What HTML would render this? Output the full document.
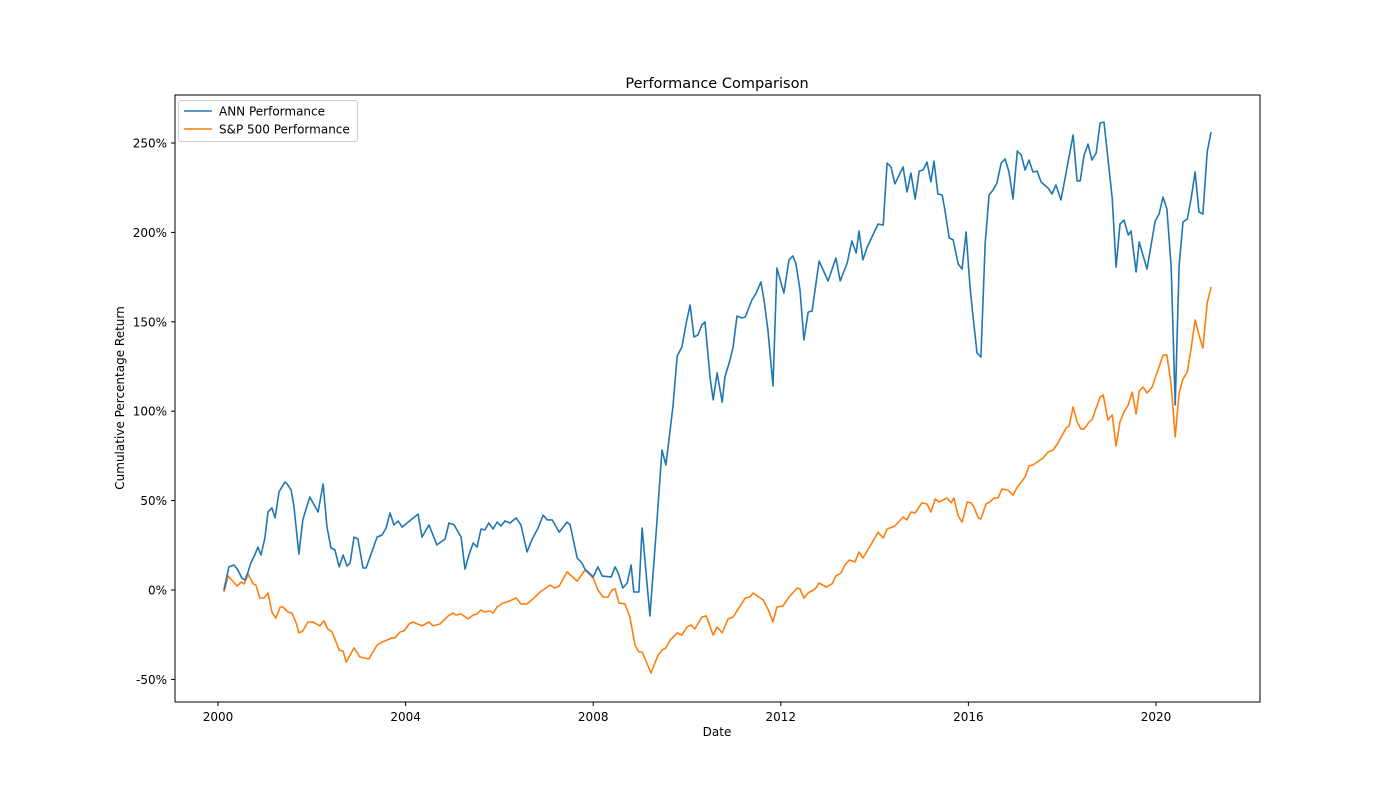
<!DOCTYPE html>
<html><head><meta charset="utf-8"><style>
html,body{margin:0;padding:0;background:#fff;}
svg{display:block;font-family:"DejaVu Sans","Liberation Sans",sans-serif;}
</style></head><body>
<svg id="chart" width="1400" height="788" viewBox="0 0 1400 788">
<rect width="1400" height="788" fill="#fff"/>
<text x="717" y="88" text-anchor="middle" font-size="14.5">Performance Comparison</text>
<g id="grid"></g>
<g id="series"></g>
<rect x="175" y="95" width="1085" height="607" fill="none" stroke="#000" stroke-width="1"/>
<g id="axes"></g>
<text x="717" y="736" text-anchor="middle" font-size="12">Date</text>
<text transform="translate(124,398) rotate(-90)" text-anchor="middle" font-size="12">Cumulative Percentage Return</text>
<g>
<rect x="178.5" y="100.5" width="179" height="41" rx="2" fill="#fff" stroke="#ccc"/>
<line x1="184" y1="111" x2="212" y2="111" stroke="#1f77b4" stroke-width="1.5"/>
<text x="219" y="115.5" font-size="12">ANN Performance</text>
<line x1="184" y1="129" x2="212" y2="129" stroke="#ff7f0e" stroke-width="1.5"/>
<text x="219" y="133.5" font-size="12">S&amp;P 500 Performance</text>
</g>
</svg>
<script>
// months since Jan 2000, cumulative % return
const annMonths=[1.5,2.8,4.1,5.1,6.1,6.9,7.7,8.4,9.5,10.2,11,12,12.8,13.8,14.6,15.6,17.1,17.7,18.7,19.4,20.7,21.7,23.5,25.6,26.9,27.9,28.9,29.9,31,32,33,33.8,34.8,35.8,37.1,37.9,40.7,42,43,44,45,46.1,47.1,51.2,52.2,54,56,58.1,59.1,60.4,62.2,63.2,64.2,65.3,66.3,67.3,68.3,69.3,70.4,71.4,72.4,73.4,74.7,76.3,77.5,79.1,80.3,81.9,83.2,84.2,85.5,87.3,89.3,90.1,91.9,93.1,93.9,96,97.2,98.3,100.6,101.6,102.4,103.6,104.7,105.7,106.4,107.7,108.5,110.5,112.1,113.6,114.6,116.4,117.5,118.7,119.8,120.8,121.8,122.8,123.8,124.6,125.9,126.7,127.7,129,129.7,131,131.8,132.8,134.1,134.9,136.6,137.7,138.9,139.7,140.7,142,143,144.8,146.1,147.1,147.9,148.9,149.9,151,152,153.8,156.1,158.1,159.2,161,162.2,163.3,164,165,166.1,168.9,170.2,171.2,172.2,173.2,175.3,176.3,177.3,178.4,179.4,180.4,181.4,182.4,183.2,184.2,185.3,186,187.1,188.1,189.4,190.4,191.4,192.4,193.2,194.2,195.2,196.3,197.3,198.3,199.3,200.4,201.4,202.4,203.4,204.5,205.5,206.5,207.5,208.5,209.6,210.6,212.4,213.4,214.4,215.7,218.8,219.8,220.6,221.6,222.6,223.6,224.7,225.7,226.7,228.8,229.8,230.8,231.8,232.9,233.6,234.9,235.7,237.7,239.8,240.8,241.8,242.8,243.9,244.9,245.9,246.9,248,249,250,251,252,253.1,254.1];
const annValues=[0,12.9,14,11.2,6.7,5.6,10.1,15.1,20.1,24,19.6,29.1,43.6,45.9,40.3,54.8,60.4,59.3,55.9,47.5,20.1,39.2,52,43.6,59.3,35.2,23.5,22.4,12.9,19.6,13.4,15.1,29.6,28.5,12.3,12.3,29.6,30.8,34.7,43.1,36.4,38.6,35.2,42.5,29.6,36.4,25.2,28.5,37.5,36.4,29.6,11.7,19.6,26.3,24,34.1,33.6,37.5,34.1,38,35.8,38.6,37.5,40.3,36.4,21.3,28,34.7,41.9,39.2,39.2,32.4,38,36.4,17.9,15.1,11.7,7.3,12.9,7.8,7.3,12.9,9.5,1.1,3.9,14,-1.1,-1.1,34.7,-14.5,31.9,78.3,69.9,102.4,130.9,135.9,149.3,159.4,141.5,142.6,148.2,149.9,118.6,106.3,121.4,105.1,119.1,128.6,135.9,153.2,152.1,152.7,162.2,166.1,172.3,162.2,145.4,114.1,180.1,166.1,184.6,186.8,182.3,167.8,139.8,155.5,156,184,172.8,185.7,172.8,182.9,195.2,188.5,200.8,184.6,191.8,204.7,204.1,238.8,236.6,227.1,236.6,222.6,233.2,218.7,234.3,234.9,239.4,228.2,239.9,221.5,220.9,212.5,196.9,195.8,182.3,179.5,200.2,169.5,152.7,132.6,130.3,194.1,220.9,223.7,227.6,238.8,241.1,233.8,218.7,245.5,243.3,234.9,240.5,233.8,234.3,228.2,224.8,221.5,226.5,218.1,254.5,228.8,228.8,243.3,249.4,240.5,244.4,261.2,261.7,219.2,180.6,204.7,206.9,198.5,200.8,177.9,194.6,179.5,206.4,210.3,219.8,213.1,180.6,103.5,181.2,205.8,207.5,219.2,233.8,211.4,210.3,245,256.2];
const spMonths=[1.5,2.6,4.9,5.9,6.7,7.7,9,9.7,10.7,11.8,12.8,13.8,14.8,15.9,16.6,17.9,18.9,20,20.7,21.7,23,24.3,26.1,27.1,28.1,29.2,31,32,32.8,34.8,36.3,38.6,40.7,42,43.2,44.5,45.3,46.6,47.6,48.9,49.9,52.2,54,55,56.8,58.9,60.1,60.9,62.2,64,65.3,66.3,67.3,68.1,69.6,70.4,71.4,72.9,74,76.3,77.5,79.1,80.6,82.4,85,86.2,87.3,89.3,91.9,93.9,96,97.2,98.5,99.8,100.8,101.6,102.6,104.1,105.4,106.7,107.7,108.5,110.8,112.6,113.6,114.6,115.7,117.5,118.7,120,121,122,123.8,124.9,126.7,127.7,129,130.5,131.8,133.6,134.9,136.1,136.9,139.5,140.7,142,143,144.6,146.1,148.2,148.9,149.9,151,152.8,153.8,155.6,157.1,158.1,159.4,160.4,161.5,163,164,165,167.3,168.9,170.2,171.2,173.2,175.3,176.3,177.3,178.4,180.1,181.4,182.4,183.5,184.5,186.5,187.6,188.3,189.4,190.4,191.7,192.7,193.4,194.5,195.2,196.5,197.5,198.6,199.6,200.6,202.1,203.4,204.5,206.5,207.5,208.5,211.1,212.4,213.7,214.9,217,217.8,218.8,219.8,220.8,221.6,222.9,223.6,225.7,226.5,227.7,228.8,229.8,230.8,231.8,232.9,233.9,234.9,235.7,236.7,237.7,239,239.8,240.8,241.8,242.8,243.9,244.9,245.9,246.9,248,249,250,251,252,253.1,254.1];
const spValues=[-1.1,7.8,2.2,4.5,3.4,8.9,3.4,2.8,-4.5,-4.5,-1.7,-12.3,-15.7,-9.5,-9.5,-12.3,-12.9,-18.5,-24,-22.9,-17.9,-17.9,-20.1,-17.3,-21.8,-23.5,-33.6,-34.1,-40.3,-32.4,-37.5,-38.6,-30.8,-29.1,-28,-26.8,-26.8,-23.5,-22.9,-19,-17.9,-20.1,-17.9,-20.1,-19,-14.5,-12.9,-14,-13.4,-16.2,-14,-13.4,-11.2,-12.3,-11.7,-12.9,-9.5,-7.3,-6.7,-4.5,-7.8,-7.8,-5,-1.1,2.8,1.1,2.2,10.1,5,11.2,6.7,0,-3.9,-3.9,0,0.6,-7.3,-7.8,-15.1,-30.8,-34.7,-34.7,-46.4,-36.4,-33.6,-32.4,-28,-24,-25.2,-20.7,-19.6,-21.8,-15.1,-14.5,-25.2,-20.7,-24,-16.2,-15.1,-8.9,-4.5,-3.9,-1.7,-5.6,-10.6,-17.9,-9.5,-8.9,-3.9,1.1,0.6,-4.5,-1.7,0.6,3.9,1.7,3.4,7.8,9.5,14,16.8,15.7,21.3,17.9,26.3,32.4,29.1,34.1,35.8,40.8,39.2,43.6,43.1,48.7,48.1,43.6,50.9,49.2,51.5,48.7,51.5,41.4,38,49.2,48.7,46.4,40.3,39.7,48.1,49.2,51.5,51.5,56.5,55.9,53.1,57.6,63.2,69.4,69.9,73.8,77.2,78.3,82.2,90.6,91.7,102.4,94,90,90,94,95.1,107.9,109.1,95.1,97.9,80.5,94,99.6,103.5,110.7,98.4,111.3,113.5,110.2,113.5,118.6,124.7,131.4,131.4,114.7,85.6,110.2,118,121.9,135.3,151,142.6,135.3,160.5,169.5];
const xTickYears=[2000,2004,2008,2012,2016,2020];
const yTickValues=[-50,0,50,100,150,200,250];

const X0=218, PX_PER_MONTH=46.9/12, Y0=590, PX_PER_PCT=1.788;
function xScale(m){return X0+m*PX_PER_MONTH;}
function yScale(v){return Y0-v*PX_PER_PCT;}
const NS="http://www.w3.org/2000/svg";
const axes=document.getElementById('axes');
const series=document.getElementById('series');
function mk(tag,attrs,parent){const e=document.createElementNS(NS,tag);for(const k in attrs)e.setAttribute(k,attrs[k]);parent.appendChild(e);return e;}

xTickYears.forEach(y=>{
  const x=xScale((y-2000)*12);
  const t=mk('line',{x1:x,y1:702,x2:x,y2:706,stroke:'#000'},axes);
  
  
  const l=mk('text',{x:x,y:721,'text-anchor':'middle','font-size':'12'},axes);
  l.textContent=y;
  
  
});
yTickValues.forEach(v=>{
  const y=yScale(v);
  const t=mk('line',{x1:171,y1:y,x2:175,y2:y,stroke:'#000'},axes);
  
  
  const l=mk('text',{x:167,y:y+4.5,'text-anchor':'end','font-size':'12'},axes);
  l.textContent=v+'%';
  
  
});
function line(ms,vs,color){
  return ms.map((m,i)=>(i?'L':'M')+xScale(m).toFixed(1)+','+yScale(vs[i]).toFixed(1)).join('');
}
const spPath=mk('path',{d:line(spMonths,spValues),fill:'none',stroke:'#ff7f0e','stroke-width':'1.6','stroke-linejoin':'round'},series);


const annPath=mk('path',{d:line(annMonths,annValues),fill:'none',stroke:'#1f77b4','stroke-width':'1.6','stroke-linejoin':'round'},series);


</script>
</body></html>
